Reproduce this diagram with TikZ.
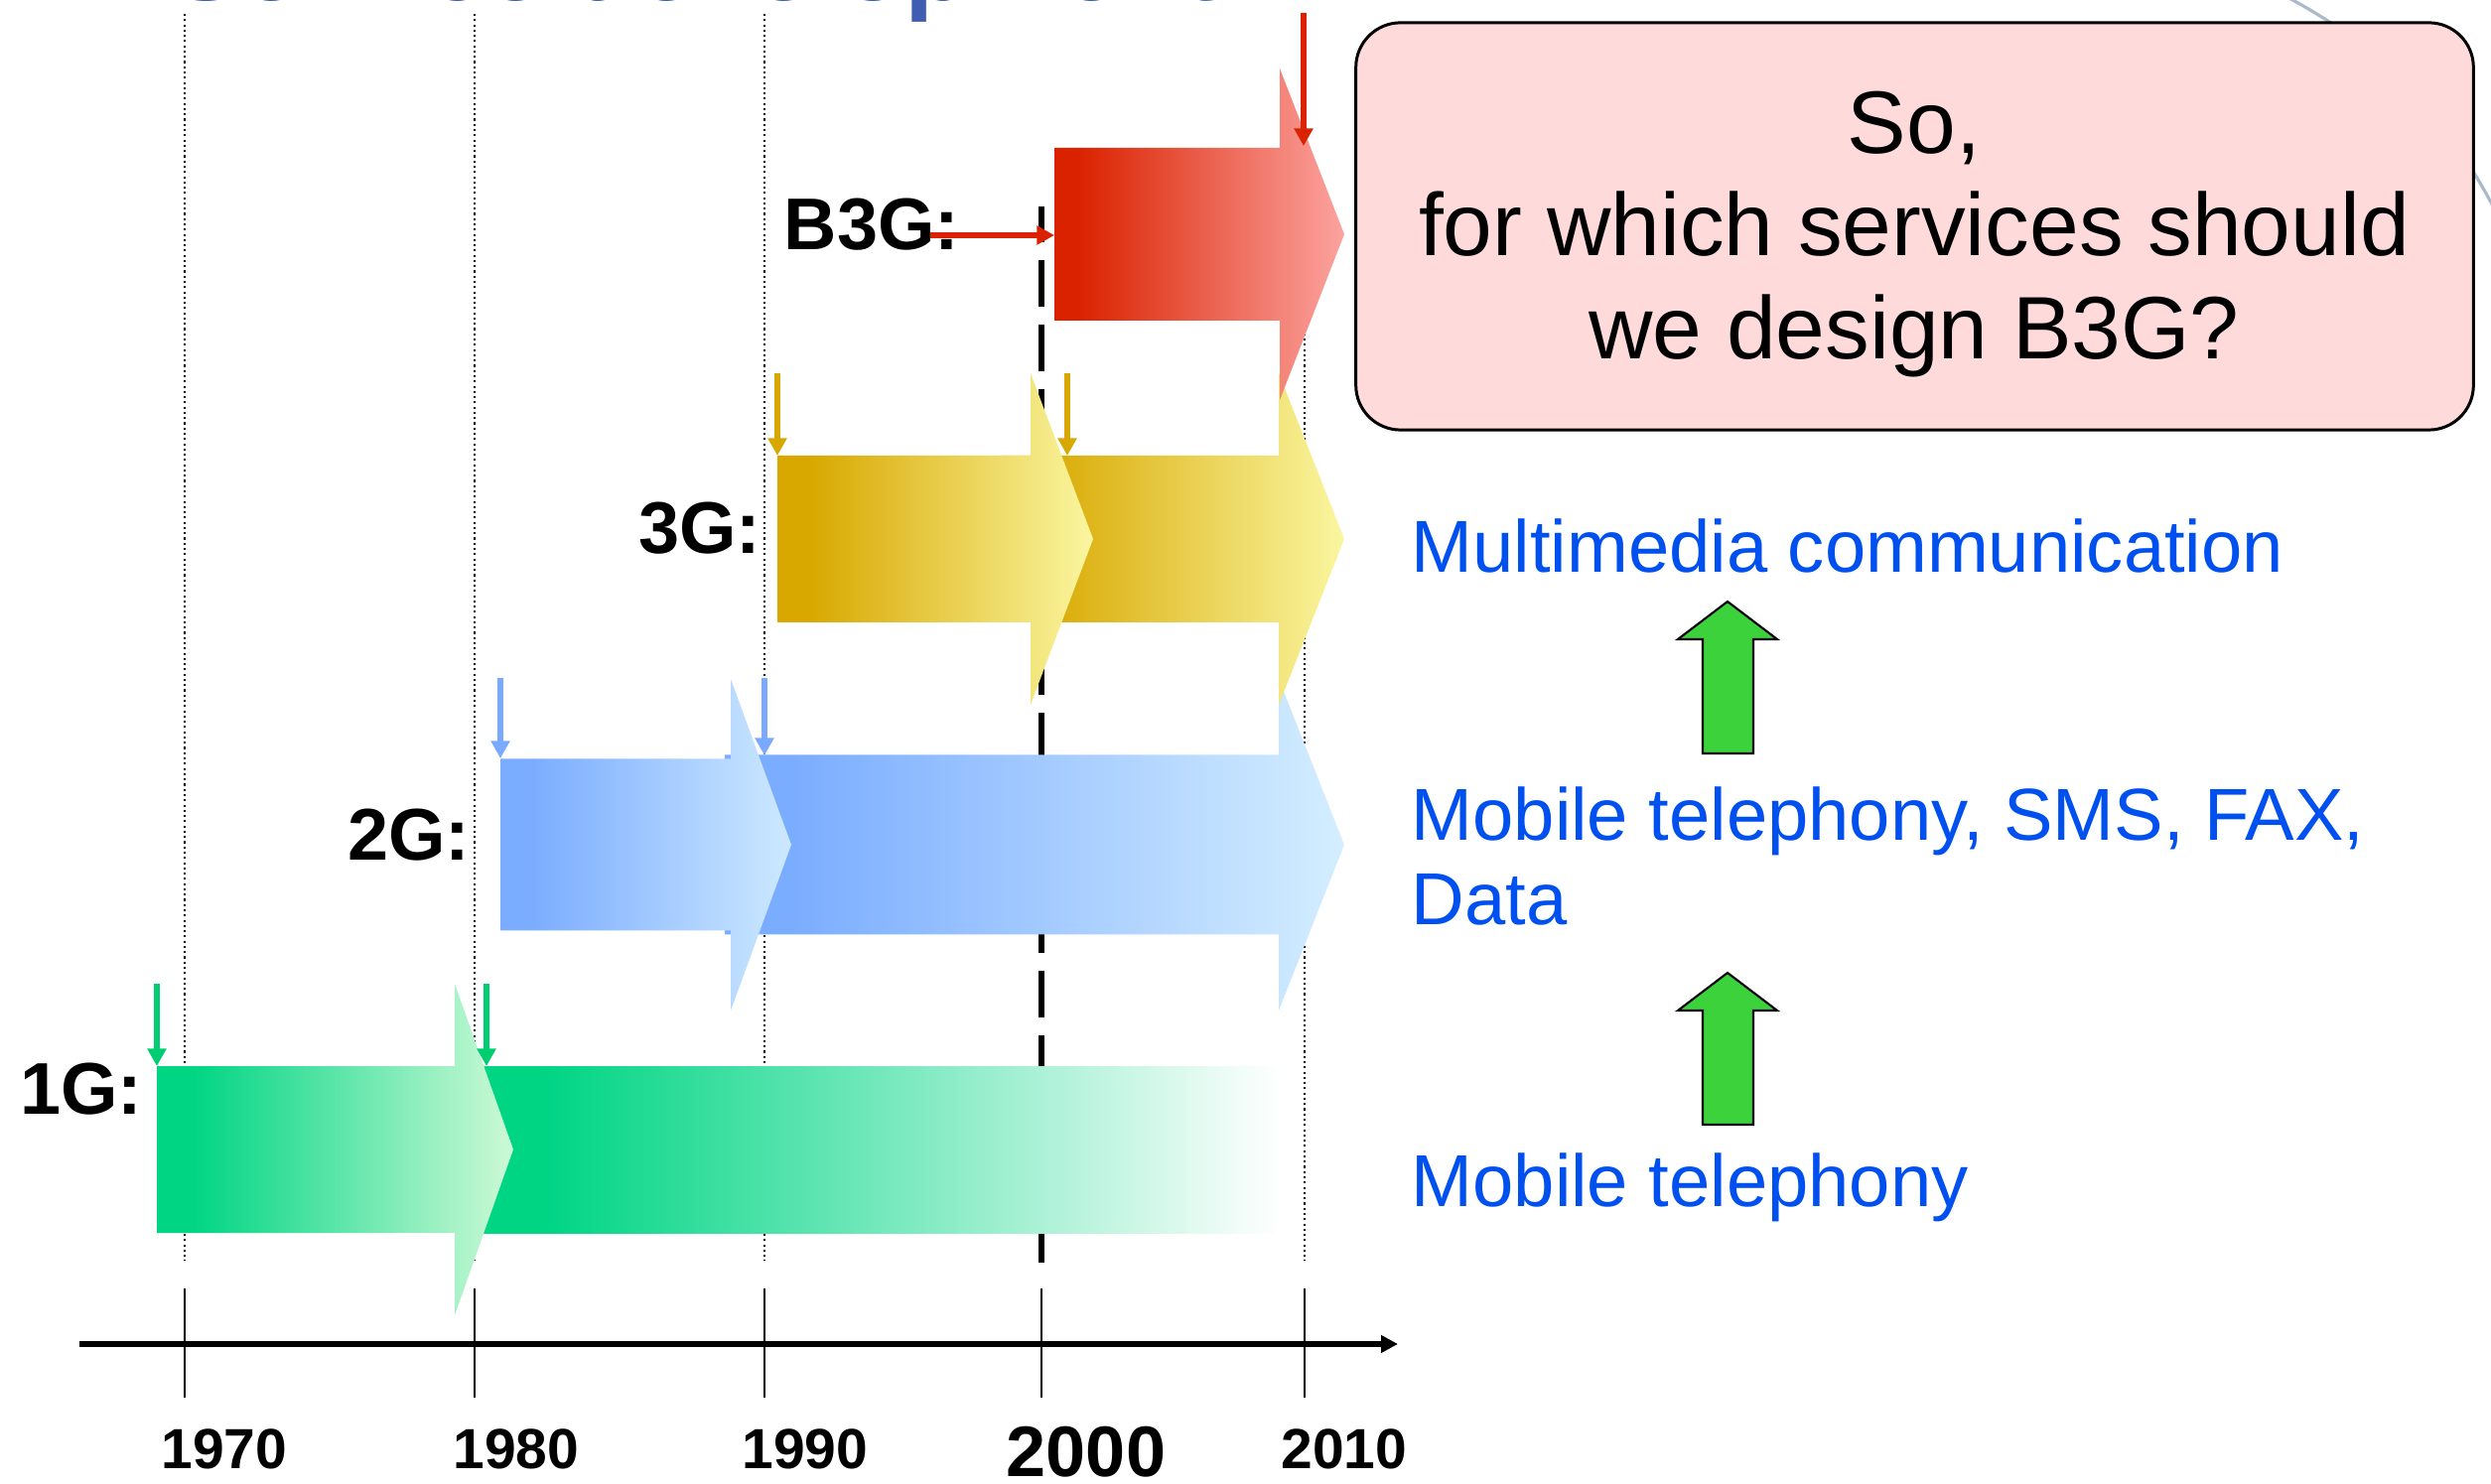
\documentclass[tikz,border=0pt]{standalone}
\usepackage{fontspec}
\setmainfont{Liberation Sans}
\usetikzlibrary{arrows.meta}

% colours
\definecolor{titleblue}{RGB}{63,94,178}
\definecolor{svcblue}{RGB}{0,80,240}
\definecolor{boxpink}{RGB}{255,218,218}
\definecolor{upgreen}{RGB}{60,210,60}
\definecolor{swoosh}{RGB}{170,186,202}
\definecolor{markgreen}{RGB}{0,204,112}
\definecolor{markblue}{RGB}{122,170,255}
\definecolor{markgold}{RGB}{216,168,0}
\definecolor{markred}{RGB}{218,34,0}
\definecolor{oneL}{RGB}{0,213,132}
\definecolor{oneR}{RGB}{205,249,214}
\definecolor{twoL}{RGB}{122,172,255}
\definecolor{twoR}{RGB}{205,233,255}
\definecolor{twoRR}{RGB}{212,238,255}
\definecolor{threeL}{RGB}{216,168,0}
\definecolor{threeR}{RGB}{250,246,160}
\definecolor{fourL}{RGB}{218,34,0}
\definecolor{fourR}{RGB}{252,163,159}

% left-to-right fills of the generation arrows (25bp..75bp spans the shape)
\pgfdeclarehorizontalshading{oneshade}{100bp}{color(0bp)=(oneL); color(30bp)=(oneL); color(75bp)=(oneR); color(100bp)=(oneR)}
\pgfdeclarehorizontalshading{onefade}{100bp}{color(0bp)=(oneL); color(30bp)=(oneL); color(75bp)=(white); color(100bp)=(white)}
\pgfdeclarehorizontalshading{twoshadeA}{100bp}{color(0bp)=(twoL); color(30bp)=(twoL); color(75bp)=(twoR); color(100bp)=(twoR)}
\pgfdeclarehorizontalshading{twoshadeB}{100bp}{color(0bp)=(twoL); color(30bp)=(twoL); color(75bp)=(twoRR); color(100bp)=(twoRR)}
\pgfdeclarehorizontalshading{threeshade}{100bp}{color(0bp)=(threeL); color(30bp)=(threeL); color(75bp)=(threeR); color(100bp)=(threeR)}
\pgfdeclarehorizontalshading{fourshade}{100bp}{color(0bp)=(fourL); color(29bp)=(fourL); color(75bp)=(fourR); color(100bp)=(fourR)}

\begin{document}
\begin{tikzpicture}[x=0.01cm,y=-0.01cm,
  % block arrow: x-left, x-head-base, y-centre, x-tip, half body height
  blockarrow/.style n args={5}{insert path={(#1,{#3-#5}) -- (#2,{#3-#5}) -- (#2,{#3-167}) -- (#4,#3) -- (#2,{#3+167}) -- (#2,{#3+#5}) -- (#1,{#3+#5}) -- cycle}},
  gridline/.style={line width=0.6pt, dash pattern=on 0.6pt off 0.9pt},
  yearline/.style={line width=1.45pt, dash pattern=on 13.4pt off 5.1pt, dash phase=3.1pt},
  yeartick/.style={line width=0.7pt},
  axisline/.style={line width=1.45pt, -{Triangle[length=4.8pt,width=4.8pt]}},
  startmark/.style={line width=1.45pt, -{Triangle[length=5pt,width=5.2pt]}},
  genlabel/.style={font=\fontsize{21}{25}\selectfont\bfseries, anchor=base east, inner sep=0pt},
  yearlabel/.style={font=\fontsize{16.2}{19}\selectfont\bfseries, anchor=base, inner sep=0pt},
  svc/.style={font=\fontsize{21.1}{25}\selectfont, text=svcblue, anchor=base west, inner sep=0pt},
  qtext/.style={font=\fontsize{25.4}{30}\selectfont, anchor=base, inner sep=0pt},
  qbox/.style={draw=black, line width=0.85pt, fill=boxpink, rounded corners=12.8pt,
    minimum width=11.25cm, minimum height=4.1cm, inner sep=0pt},
  uparrow/.style={draw=black, line width=0.6pt, fill=upgreen, line join=miter},
  titletext/.style={font=\fontsize{30}{36}\selectfont\bfseries, text=titleblue, anchor=base west, inner sep=0pt}
]
\useasboundingbox (0,0) rectangle (2509,1495);
\clip (0,0) rectangle (2509,1495);

% slide background swoosh
\draw[swoosh, line width=0.9pt] (2290,-10) .. controls (2420,55) and (2478,140) .. (2525,235);

% slide title
\node[titletext] (title) at (172,1) {Service development};

% decade grid lines
\foreach \x/\n in {186/a,478/b,770/c,1314/e}{
  \coordinate (gt\n) at (\x,14);
  \coordinate (gb\n) at (\x,1270);
  \draw[gridline] (gt\n) -- (gb\n);
}
\coordinate (gtd) at (1049,208);
\coordinate (gbd) at (1049,1272);
\draw[yearline] (gtd) -- (gbd);

% time axis
\coordinate (axL) at (80,1354);
\coordinate (axR) at (1408,1354);
\draw[axisline] (axL) -- (axR);
\foreach \x/\n in {186/a,478/b,770/c,1049/d,1314/e}{
  \coordinate (kt\n) at (\x,1298);
  \coordinate (kb\n) at (\x,1408);
  \draw[yeartick] (kt\n) -- (kb\n);
}
\node[yearlabel] (y1970) at (226,1479) {1970};
\node[yearlabel] (y1980) at (520,1479) {1980};
\node[yearlabel] (y1990) at (811,1479) {1990};
\node[yearlabel, font=\fontsize{20.5}{24}\selectfont\bfseries] (y2000) at (1094,1487) {2000};
\node[yearlabel] (y2010) at (1354,1479) {2010};

% 1G
\shade[shading=onefade] (470,1074) rectangle (1290,1242);
\shade[shading=oneshade, blockarrow={158}{458}{1158}{517}{84}];
% 2G
\shade[shading=twoshadeB, blockarrow={730}{1288}{851}{1354}{90.5}];
\shade[shading=twoshadeA, blockarrow={504}{736}{851}{797}{86.5}];
% 3G
\shade[shading=threeshade, blockarrow={1009}{1288}{543}{1354}{84}];
\shade[shading=threeshade, blockarrow={783}{1038}{543}{1101}{84}];
% B3G
\shade[shading=fourshade, blockarrow={1062}{1289}{236}{1354}{87}];

% generation labels
\node[genlabel] (g1) at (144,1123) {1G:};
\node[genlabel] (g2) at (474,867) {2G:};
\node[genlabel] (g3) at (767,558) {3G:};
\node[genlabel] (g4) at (967,252) {B3G:};

% start markers
\coordinate (m1aT) at (158,991);  \coordinate (m1aB) at (158,1074);
\coordinate (m1bT) at (490,991);  \coordinate (m1bB) at (490,1074);
\coordinate (m2aT) at (504,683);  \coordinate (m2aB) at (504,764);
\coordinate (m2bT) at (770,683);  \coordinate (m2bB) at (770,761);
\coordinate (m3aT) at (783,376);  \coordinate (m3aB) at (783,459);
\coordinate (m3bT) at (1075,376); \coordinate (m3bB) at (1075,459);
\coordinate (m4aT) at (1313,13);  \coordinate (m4aB) at (1313,147);
\coordinate (m4cL) at (937,237);  \coordinate (m4cR) at (1062,237);
\draw[startmark, markgreen] (m1aT) -- (m1aB);
\draw[startmark, markgreen] (m1bT) -- (m1bB);
\draw[startmark, markblue] (m2aT) -- (m2aB);
\draw[startmark, markblue] (m2bT) -- (m2bB);
\draw[startmark, markgold] (m3aT) -- (m3aB);
\draw[startmark, markgold] (m3bT) -- (m3bB);
\draw[startmark, markred] (m4aT) -- (m4aB);
\draw[startmark, markred, line width=1.7pt] (m4cL) -- (m4cR);

% question box
\node[qbox] (qbox) at (1928.5,228) {};
\node[qtext] (q1) at (1928,155) {So,};
\node[qtext] (q2) at (1928,258) {for which services should};
\node[qtext] (q3) at (1928,362) {we design B3G?};

% services
\node[svc] (s3) at (1421,577) {Multimedia communication};
\node[svc] (s2a) at (1421,847) {Mobile telephony, SMS, FAX,};
\node[svc] (s2b) at (1421,932) {Data};
\node[svc] (s1) at (1421,1215) {Mobile telephony};

% evolution arrows
\filldraw[uparrow] (1715,759) -- (1715,644) -- (1690,644) -- (1740,606) -- (1790,644) -- (1766,644) -- (1766,759) -- cycle;
\filldraw[uparrow] (1715,1133) -- (1715,1018) -- (1690,1018) -- (1740,980) -- (1790,1018) -- (1766,1018) -- (1766,1133) -- cycle;
\end{tikzpicture}
\end{document}
